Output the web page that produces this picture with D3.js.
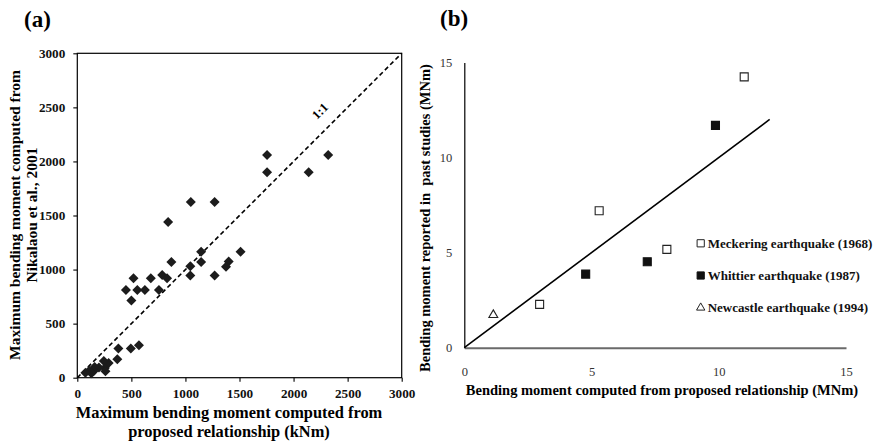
<!DOCTYPE html>
<html>
<head>
<meta charset="utf-8">
<script src="https://cdn.jsdelivr.net/npm/d3@7/dist/d3.min.js"></script>
<style>
  html, body { margin: 0; padding: 0; background: #fff; }
  svg { display: block; font-family: "Liberation Serif", "Times New Roman", serif; }
</style>
</head>
<body>
<svg id="chart" width="874" height="445"></svg>
<script>
// Panel (a): bending moment, proposed relationship vs Nikalaou et al. (kNm)
const aProposed = [1755, 1755, 2140, 2320, 1050, 1270, 840, 1145, 1510, 870, 1145, 1045, 1400, 1375,
  1045, 1270, 520, 680, 785, 830, 450, 555, 625, 755, 500, 380, 495, 570, 370,
  290, 245, 255, 200, 160, 150, 110, 130, 75, 260];
const aNikalaou = [2060, 1900, 1900, 2060, 1625, 1625, 1440, 1165, 1165, 1070, 1070, 1030, 1075, 1025,
  945, 945, 920, 920, 950, 920, 810, 810, 810, 810, 715, 270, 270, 300, 170,
  135, 155, 90, 95, 100, 60, 65, 40, 45, 60];
const aTicks = [0, 500, 1000, 1500, 2000, 2500, 3000];

// Panel (b): case histories (MNm)
const bSeries = ["Meckering earthquake (1968)", "Whittier earthquake (1987)", "Newcastle earthquake (1994)"];
const bProposed = [[11.0, 5.3, 7.96, 2.96], [9.87, 4.77, 7.19], [1.14]];
const bReported = [[14.24, 7.2, 5.17, 2.28], [11.69, 3.87, 4.52], [1.72]];
const bTicks = [0, 5, 10, 15];
const bLineEnd = 12;

const svg = d3.select("#chart");

// ---------- panel (a) ----------
const ax = d3.scaleLinear().domain([0, 3000]).range([77.3, 401.7]);
const ay = d3.scaleLinear().domain([0, 3000]).range([377.7, 53.3]);

svg.append("text").attr("x", 24).attr("y", 27).attr("font-size", 23).attr("font-weight", "bold").text("(a)");

// frame
svg.append("rect").attr("x", ax(0)).attr("y", ay(3000))
  .attr("width", ax(3000) - ax(0)).attr("height", ay(0) - ay(3000))
  .attr("fill", "none").attr("stroke", "#000").attr("stroke-width", 1.2);

const gxA = svg.append("g").attr("transform", `translate(0,${ay(0)})`)
  .call(d3.axisBottom(ax).tickValues(aTicks).tickSize(4).tickPadding(7).tickFormat(d3.format("d")));
const gyA = svg.append("g").attr("transform", `translate(${ax(0)},0)`)
  .call(d3.axisLeft(ay).tickValues(aTicks).tickSize(4).tickPadding(8).tickFormat(d3.format("d")));
[gxA, gyA].forEach(g => {
  g.select(".domain").remove();
  g.selectAll("line").attr("stroke", "#000").attr("stroke-width", 1.1);
  g.selectAll("text").attr("font-family", "Liberation Serif, serif").attr("font-size", 13.2)
    .attr("font-weight", "bold").attr("fill", "#111");
});

// 1:1 line
svg.append("line").attr("x1", ax(0)).attr("y1", ay(0)).attr("x2", ax(3000)).attr("y2", ay(3000))
  .attr("stroke", "#000").attr("stroke-width", 1.6).attr("stroke-dasharray", "4.5,3");
svg.append("text").attr("transform", "translate(323,114) rotate(-45)")
  .attr("text-anchor", "middle").attr("font-size", 12.5).attr("font-weight", "bold").text("1:1");

// diamonds
const diamond = d3.symbol().type(d3.symbolSquare).size(50)();
svg.append("g").selectAll("path").data(d3.range(aProposed.length)).join("path")
  .attr("d", diamond)
  .attr("transform", i => `translate(${ax(aProposed[i])},${ay(aNikalaou[i])}) rotate(45)`)
  .attr("fill", "#1c1c1c");

// axis titles
svg.append("text").attr("x", 229).attr("y", 418).attr("text-anchor", "middle")
  .attr("font-size", 16.4).attr("font-weight", "bold").text("Maximum bending moment computed from");
svg.append("text").attr("x", 229).attr("y", 437).attr("text-anchor", "middle")
  .attr("font-size", 16.4).attr("font-weight", "bold").text("proposed relationship (kNm)");
const yTitleA = svg.append("text").attr("transform", "translate(0,215) rotate(-90)")
  .attr("text-anchor", "middle").attr("font-size", 15.5).attr("font-weight", "bold");
yTitleA.append("tspan").attr("x", 0).attr("y", 19.5).text("Maximum bending moment computed from");
yTitleA.append("tspan").attr("x", 0).attr("y", 37).text("Nikalaou et al., 2001");

// ---------- panel (b) ----------
const bx = d3.scaleLinear().domain([0, 15]).range([464.3, 846]);
const by = d3.scaleLinear().domain([0, 15]).range([347.7, 62.4]);

svg.append("text").attr("x", 440).attr("y", 26).attr("font-size", 23).attr("font-weight", "bold").text("(b)");

const gxB = svg.append("g").attr("transform", `translate(0,${by(0)})`)
  .call(d3.axisBottom(bx).tickValues(bTicks).tickSize(0).tickPadding(19));
gxB.select(".domain").attr("stroke", "#6a6a6a").attr("stroke-width", 2);
const gyB = svg.append("g").attr("transform", `translate(${bx(0)},0)`)
  .call(d3.axisLeft(by).tickValues(bTicks).tickSize(0).tickPadding(12));
gyB.select(".domain").attr("stroke", "#000").attr("stroke-width", 1.2);
[gxB, gyB].forEach(g => {
  g.selectAll("text").attr("font-family", "Liberation Serif, serif").attr("font-size", 12.5)
    .attr("fill", "#333");
});

// proposed relationship line
svg.append("line").attr("x1", bx(0)).attr("y1", by(0)).attr("x2", bx(bLineEnd)).attr("y2", by(bLineEnd))
  .attr("stroke", "#000").attr("stroke-width", 1.6);

const sq = d3.symbol().type(d3.symbolSquare).size(64)();
const tri = d3.symbol().type(d3.symbolTriangle).size(34)();
const markStyle = [
  { d: sq, fill: "#fff", stroke: "#222" },
  { d: sq, fill: "#111", stroke: "#111" },
  { d: tri, fill: "#fff", stroke: "#222" }
];
bSeries.forEach((name, s) => {
  svg.append("g").selectAll("path").data(bProposed[s]).join("path")
    .attr("d", markStyle[s].d)
    .attr("transform", (d, i) => `translate(${bx(d)},${by(bReported[s][i])})`)
    .attr("fill", markStyle[s].fill).attr("stroke", markStyle[s].stroke).attr("stroke-width", 1.1);
});

// legend
const lg = svg.append("g").attr("transform", "translate(700.7,243.3)");
bSeries.forEach((name, s) => {
  const row = lg.append("g").attr("transform", `translate(0,${s * 32.2})`);
  row.append("path").attr("d", s === 2 ? d3.symbol().type(d3.symbolTriangle).size(30)() : d3.symbol().type(d3.symbolSquare).size(52)())
    .attr("fill", markStyle[s].fill).attr("stroke", markStyle[s].stroke).attr("stroke-width", 1);
  row.append("text").attr("x", 7).attr("y", 4.5).attr("font-size", 13).attr("font-weight", "bold")
    .attr("fill", "#111").text(name);
});

// axis titles
svg.append("text").attr("x", 662).attr("y", 395).attr("text-anchor", "middle")
  .attr("font-size", 14.5).attr("font-weight", "bold").text("Bending moment computed from proposed relationship (MNm)");
svg.append("text").attr("transform", "translate(430,218) rotate(-90)").attr("text-anchor", "middle")
  .attr("font-size", 14.5).attr("font-weight", "bold").attr("xml:space", "preserve")
  .style("white-space", "pre").text("Bending moment reported in  past studies (MNm)");
</script>
</body>
</html>
